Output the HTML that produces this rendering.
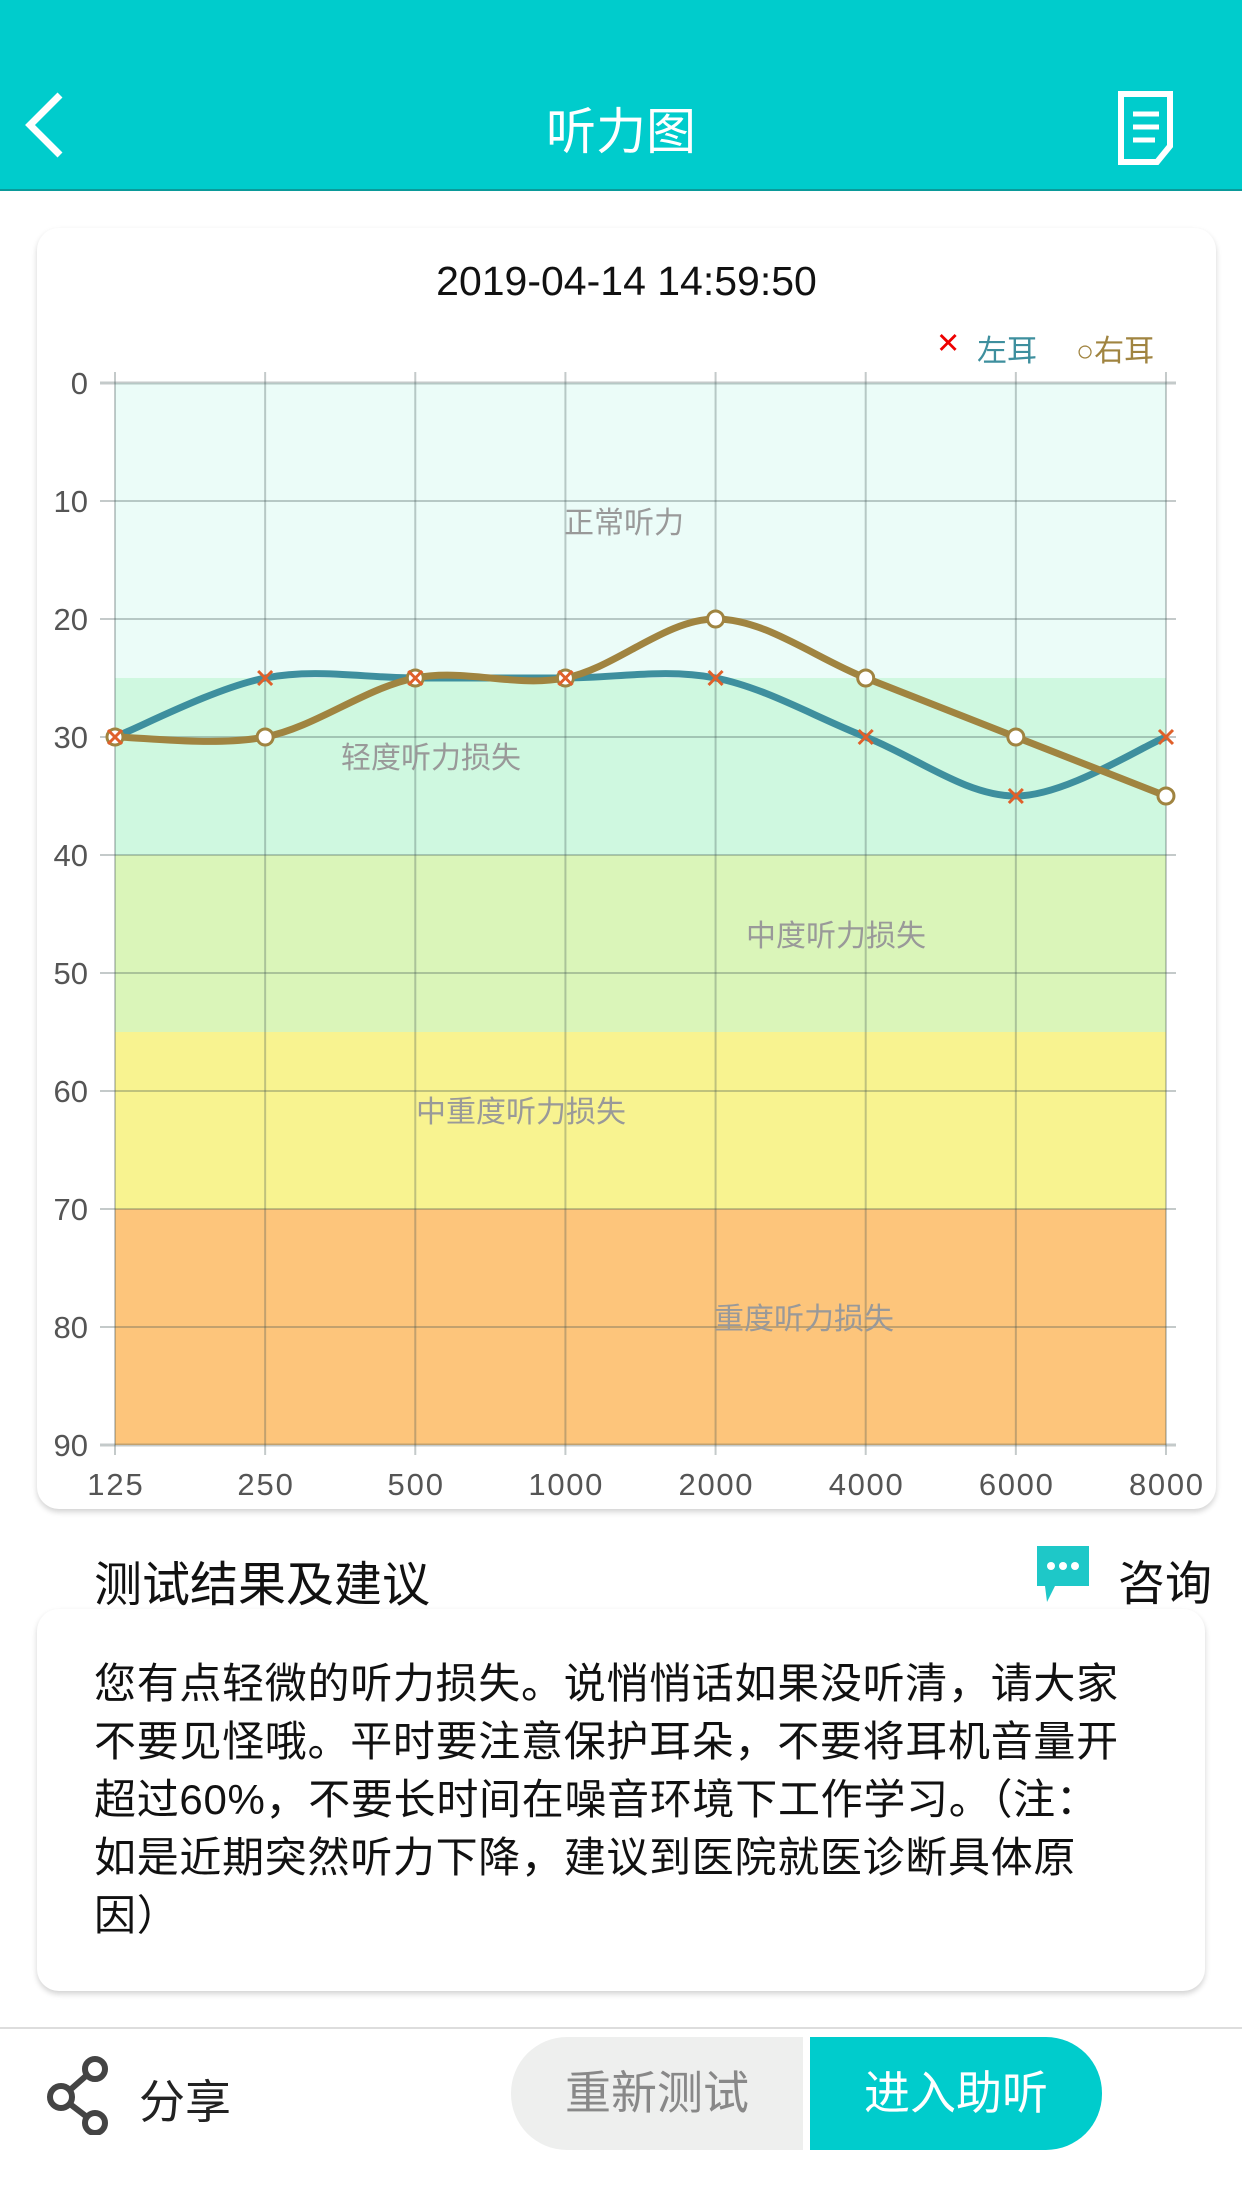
<!DOCTYPE html>
<html><head><meta charset="utf-8"><style>
body{margin:0;width:1242px;height:2208px;background:#fff;font-family:"Liberation Sans","Noto Sans CJK SC",sans-serif;position:relative;overflow:hidden}
.abs{position:absolute}
</style></head><body>
<div class="abs" style="left:0;top:0;width:1242px;height:189px;background:#00cccc;border-bottom:2px solid #0a9a9a"></div>
<svg class="abs" style="left:20px;top:90px" width="50" height="70"><polyline points="40,5 10,35 40,65" fill="none" stroke="#fff" stroke-width="7"/></svg>
<div class="abs" style="left:0;width:1242px;top:92px;text-align:center;color:#fff;font-size:50px">听力图</div>
<svg class="abs" style="left:1115px;top:88px" width="65" height="80"><path d="M6 6 H55 V58 L42 74 H6 Z" fill="none" stroke="#fff" stroke-width="6"/><path d="M18 26H44M18 39H44M18 52H40" stroke="#fff" stroke-width="5"/></svg>

<div class="abs" style="left:37px;top:228px;width:1179px;height:1281px;background:#fff;border-radius:22px;box-shadow:0 3px 6px rgba(0,0,0,.18)"></div>
<div class="abs" style="left:37px;width:1179px;top:258px;text-align:center;font-size:41px;color:#111">2019-04-14 14:59:50</div>
<div class="abs" style="left:936px;top:326px;font-size:29px;color:#e00">✕</div>
<div class="abs" style="left:977px;top:326px;font-size:30px;color:#3e8f9e">左耳</div>
<div class="abs" style="left:1076px;top:326px;font-size:30px;color:#a08440">○右耳</div>

<svg class="abs" style="left:0;top:0" width="1242" height="1560" id="ch">
<rect x="115" y="383" width="1051" height="295" fill="#ebfcf8"/>
<rect x="115" y="678" width="1051" height="177" fill="#cff8e0"/>
<rect x="115" y="855" width="1051" height="177" fill="#daf5b9"/>
<rect x="115" y="1032" width="1051" height="177" fill="#f8f390"/>
<rect x="115" y="1209" width="1051" height="236" fill="#fdc57b"/>
<g id="grid" stroke="rgba(60,80,80,0.3)" stroke-width="2"></g>
<g font-size="30" fill="#999" font-family="Liberation Sans,Noto Sans CJK SC,sans-serif" text-anchor="middle">
<text x="624" y="533">正常听力</text><text x="431" y="768">轻度听力损失</text><text x="836" y="946">中度听力损失</text><text x="521" y="1122">中重度听力损失</text><text x="804" y="1329">重度听力损失</text></g>
<g id="lab" font-size="31" fill="#555" font-family="Liberation Sans,sans-serif"></g>
<path id="pl" fill="none" stroke="#3e8f9e" stroke-width="7"/>
<path id="pr" fill="none" stroke="#a08440" stroke-width="7"/>
<g id="mk"></g>
</svg>

<div class="abs" style="left:94px;top:1545px;font-size:48px;color:#111">测试结果及建议</div>
<svg class="abs" style="left:1033px;top:1542px" width="60" height="64"><path d="M4 4H56V44H22L14 60L12 44H4Z" fill="#1ec8c8"/><circle cx="18" cy="24" r="4" fill="#fff"/><circle cx="30" cy="24" r="4" fill="#fff"/><circle cx="42" cy="24" r="4" fill="#fff"/></svg>
<div class="abs" style="left:1118px;top:1545px;font-size:47px;color:#111">咨询</div>

<div class="abs" style="left:37px;top:1609px;width:1168px;height:382px;background:#fff;border-radius:22px;box-shadow:0 3px 6px rgba(0,0,0,.18)"></div>
<div class="abs" style="left:94px;top:1655px;width:1100px;font-size:42px;letter-spacing:0.7px;line-height:58px;color:#111">您有点轻微的听力损失。说悄悄话如果没听清，请大家<br>不要见怪哦。平时要注意保护耳朵，不要将耳机音量开<br>超过60%，不要长时间在噪音环境下工作学习。（注：<br>如是近期突然听力下降，建议到医院就医诊断具体原<br>因）</div>

<div class="abs" style="left:0;top:2027px;width:1242px;height:2px;background:#ddd"></div>
<svg class="abs" style="left:45px;top:2055px" width="70" height="80"><g fill="none" stroke="#444" stroke-width="6"><circle cx="50" cy="14" r="10"/><circle cx="16" cy="42" r="11"/><circle cx="50" cy="68" r="10"/><path d="M42 20L25 35M25 49L42 62"/></g></svg>
<div class="abs" style="left:139px;top:2066px;font-size:46px;color:#222">分享</div>
<div class="abs" style="left:511px;top:2037px;width:292px;height:113px;background:#eeefee;border-radius:56px 0 0 56px;color:#888;font-size:46px;line-height:113px;text-align:center">重新测试</div>
<div class="abs" style="left:810px;top:2037px;width:292px;height:113px;background:#00cccc;border-radius:0 56px 56px 0;color:#fff;font-size:46px;line-height:113px;text-align:center">进入助听</div>

<script>
var NS="http://www.w3.org/2000/svg";
function el(p,t,a,tx){var e=document.createElementNS(NS,t);for(var k in a)e.setAttribute(k,a[k]);if(tx)e.textContent=tx;document.getElementById(p).appendChild(e);}
var X=[],F=["125","250","500","1000","2000","4000","6000","8000"];
for(var i=0;i<8;i++)X.push(115+i*150.14);
function Y(v){return 383+v*11.8;}
for(i=0;i<8;i++){el("grid","line",{x1:X[i],y1:372,x2:X[i],y2:1455});el("lab","text",{x:X[i],y:1495,"text-anchor":"middle","textLength":F[i].length*18.5},F[i]);}
for(var v=0;v<=90;v+=10){el("grid","line",{x1:100,y1:Y(v),x2:1176,y2:Y(v),"stroke-width":v==0||v==90?3:2});el("lab","text",{x:88,y:Y(v)+11,"text-anchor":"end"},String(v));}
function path(d){var p=d.map(function(v,i){return[X[i],Y(v)]});var s="M"+p[0][0]+" "+p[0][1];
for(var i=0;i<p.length-1;i++){var p0=p[i-1]||p[i],p1=p[i],p2=p[i+1],p3=p[i+2]||p2;
s+=" C"+(p1[0]+(p2[0]-p0[0])/6)+" "+(p1[1]+(p2[1]-p0[1])/6)+" "+(p2[0]-(p3[0]-p1[0])/6)+" "+(p2[1]-(p3[1]-p1[1])/6)+" "+p2[0]+" "+p2[1];}return s;}
var L=[30,25,25,25,25,30,35,30],R=[30,30,25,25,20,25,30,35];
document.getElementById("pl").setAttribute("d",path(L));
document.getElementById("pr").setAttribute("d",path(R));
for(i=0;i<8;i++){el("mk","circle",{cx:X[i],cy:Y(R[i]),r:8,fill:"#fff",stroke:"#a08440","stroke-width":3});
var x=X[i],y=Y(L[i]);el("mk","path",{d:"M"+(x-7)+" "+(y-7)+"L"+(x+7)+" "+(y+7)+"M"+(x+7)+" "+(y-7)+"L"+(x-7)+" "+(y+7),stroke:"#e0602a","stroke-width":3});}
</script>
</body></html>
